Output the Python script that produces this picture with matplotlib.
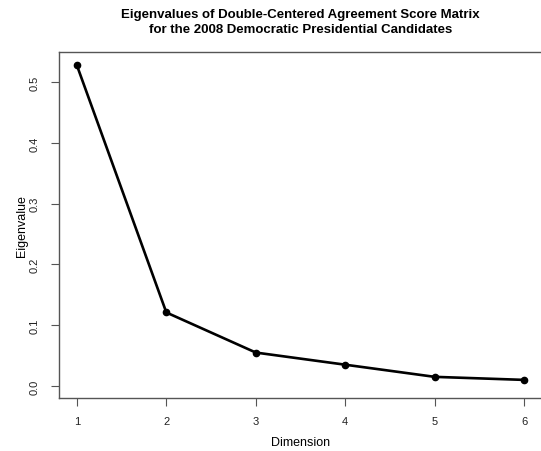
import matplotlib
matplotlib.use('Agg')
import matplotlib.pyplot as plt

dimension = [1, 2, 3, 4, 5, 6]
eigenvalue = [0.528, 0.121, 0.055, 0.035, 0.015, 0.010]
yticks = [0.0, 0.1, 0.2, 0.3, 0.4, 0.5]

plt.rcParams['font.family'] = ['Liberation Sans', 'DejaVu Sans']

fig = plt.figure(figsize=(5.41, 4.52), dpi=100)
ax = fig.add_axes([0.109, 0.117, 0.893, 0.766])

ax.plot(dimension, eigenvalue, color='black', lw=1.9, marker='o', ms=4.5)
ax.set_xlim(0.8, 6.2)
ax.set_ylim(-0.02, 0.55)
ax.set_xticks(dimension)
ax.set_yticks(yticks)
ax.set_yticklabels(['%.1f' % v for v in yticks], rotation=90, va='center')

for s in ['left', 'bottom', 'top', 'right']:
    ax.spines[s].set_color('#555555')
    ax.spines[s].set_linewidth(1.0)
ax.tick_params(axis='both', length=6, width=0.8, color='#555555', labelsize=8, colors='#222222')
ax.tick_params(axis='x', pad=7)
ax.tick_params(axis='y', pad=8)

ax.set_xlabel('Dimension', fontsize=9, labelpad=7)
ax.set_ylabel('Eigenvalue', fontsize=9, labelpad=1)
ax.set_title('Eigenvalues of Double-Centered Agreement Score Matrix\nfor the 2008 Democratic Presidential Candidates',
             fontsize=9.5, fontweight='bold', pad=14, linespacing=1.35)

fig.savefig('out.png', dpi=100)
